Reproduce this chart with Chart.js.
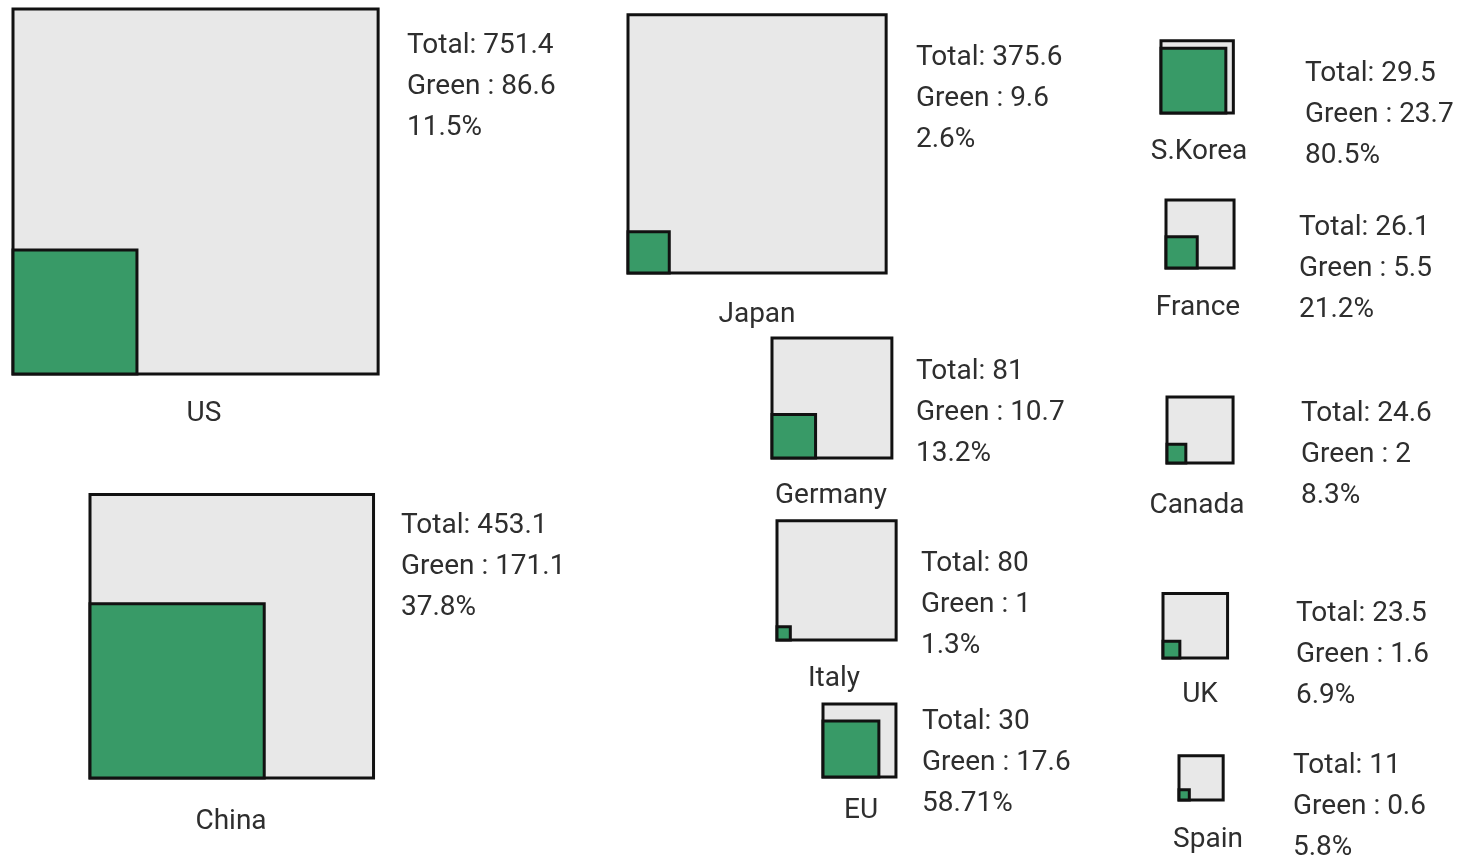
<!DOCTYPE html>
<html>
<head>
<meta charset="utf-8">
<script src="https://cdn.jsdelivr.net/npm/chart.js@4.4.1/dist/chart.umd.min.js"></script>
<style>
  html, body { margin: 0; padding: 0; background: #fff; }
  #wrap { width: 1464px; height: 855px; }
</style>
</head>
<body>
<div id="wrap"><canvas id="squares"></canvas></div>
<script>
var countries = ["US", "Japan", "China", "S.Korea", "France", "Germany", "Canada", "Italy", "UK", "EU", "Spain"];
var totals = [751.4, 375.6, 453.1, 29.5, 26.1, 81, 24.6, 80, 23.5, 30, 11];
var greens = [86.6, 9.6, 171.1, 23.7, 5.5, 10.7, 2, 1, 1.6, 17.6, 0.6];
var shares = ["11.5%", "2.6%", "37.8%", "80.5%", "21.2%", "13.2%", "8.3%", "1.3%", "6.9%", "58.71%", "5.8%"];

// page layout (axis units = px): bottom-left corner of big square,
// start of the 3-line text block, centre of the name label
var layout = [
  {x: 13,   y: 374, tx: 407,  ty: 46,  lx: 204,  ly: 414},
  {x: 628,  y: 273, tx: 916,  ty: 58,  lx: 757,  ly: 315},
  {x: 90,   y: 778, tx: 401,  ty: 526, lx: 231,  ly: 822},
  {x: 1161, y: 113, tx: 1305, ty: 74,  lx: 1199, ly: 152},
  {x: 1166, y: 268, tx: 1299, ty: 228, lx: 1198, ly: 308},
  {x: 772,  y: 458, tx: 916,  ty: 372, lx: 831,  ly: 496},
  {x: 1167, y: 463, tx: 1301, ty: 414, lx: 1197, ly: 506},
  {x: 777,  y: 640, tx: 921,  ty: 564, lx: 834,  ly: 679},
  {x: 1163, y: 658, tx: 1296, ty: 614, lx: 1200, ly: 695},
  {x: 823,  y: 777, tx: 922,  ty: 722, lx: 861,  ly: 811},
  {x: 1179, y: 800, tx: 1293, ty: 766, lx: 1208, ly: 840}
];
var UNIT = 13.32;      // px of side per sqrt(value)
var LINE_GAP = 41;

function squarePoints(x0, y0, value) {
  var s = UNIT * Math.sqrt(value);
  return [
    {x: x0, y: y0}, {x: x0 + s, y: y0}, {x: x0 + s, y: y0 - s},
    {x: x0, y: y0 - s}, {x: x0, y: y0}
  ];
}

var datasets = [];
countries.forEach(function(name, i) {
  var p = layout[i];
  datasets.push({
    label: name + ' total',
    data: squarePoints(p.x, p.y, totals[i]),
    showLine: true,
    fill: 'shape',
    backgroundColor: '#e8e8e8',
    borderColor: '#111',
    borderWidth: 3,
    borderJoinStyle: 'miter',
    borderCapStyle: 'square',
    pointRadius: 0,
    order: 1
  });
  datasets.push({
    label: name + ' green',
    data: squarePoints(p.x, p.y, greens[i]),
    showLine: true,
    fill: 'shape',
    backgroundColor: '#389a67',
    borderColor: '#111',
    borderWidth: 3,
    borderJoinStyle: 'miter',
    borderCapStyle: 'square',
    pointRadius: 0,
    order: 0
  });
});

var labelPlugin = {
  id: 'squareLabels',
  afterDatasetsDraw: function(chart) {
    var ctx = chart.ctx, xs = chart.scales.x, ys = chart.scales.y;
    ctx.save();
    ctx.font = '28px Roboto';
    ctx.fillStyle = '#2e2e2e';
    ctx.textBaseline = 'middle';
    countries.forEach(function(name, i) {
      var p = layout[i];
      var tx = xs.getPixelForValue(p.tx);
      ctx.textAlign = 'left';
      ctx.fillText('Total: ' + totals[i], tx, ys.getPixelForValue(p.ty));
      ctx.fillText('Green : ' + greens[i], tx, ys.getPixelForValue(p.ty + LINE_GAP));
      ctx.fillText(shares[i], tx, ys.getPixelForValue(p.ty + 2 * LINE_GAP));
      ctx.textAlign = 'center';
      ctx.fillText(name, xs.getPixelForValue(p.lx), ys.getPixelForValue(p.ly));
    });
    ctx.restore();
  }
};

var ctx = document.getElementById("squares");
var squaresChart = new Chart(ctx, {
  type: 'scatter',
  data: { datasets: datasets },
  options: {
    responsive: true,
    maintainAspectRatio: false,
    animation: false,
    layout: { padding: 0 },
    plugins: {
      legend: { display: false },
      tooltip: { enabled: false }
    },
    scales: {
      x: { type: 'linear', min: 0, max: 1464, display: false },
      y: { type: 'linear', min: 0, max: 855, reverse: true, display: false }
    }
  },
  plugins: [labelPlugin]
});
</script>
</body>
</html>
